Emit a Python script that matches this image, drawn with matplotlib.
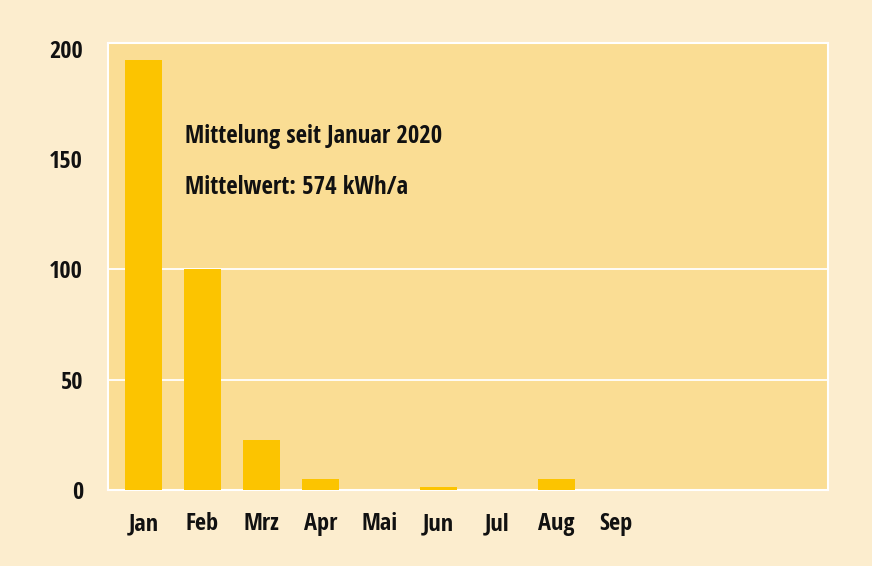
import numpy as np
import matplotlib.pyplot as plt

months = ['Jan', 'Feb', 'Mrz', 'Apr', 'Mai', 'Jun', 'Jul', 'Aug', 'Sep']
values = [195, 100, 22.5, 5, 0, 1.2, 0, 5, 0]
n_slots = 12
y_ticks = [0, 50, 100, 150, 200]
grid_lines = [50, 100]

bg_outer = '#FCEDCE'
bg_plot = '#FADD94'
bar_color = '#FCC400'

plt.rcParams['font.family'] = ['DejaVu Sans Condensed', 'Noto Sans Condensed',
                               'Open Sans Condensed', 'Noto Sans', 'DejaVu Sans']
plt.rcParams['font.stretch'] = 'condensed'
plt.rcParams['font.weight'] = 'bold'

fig = plt.figure(figsize=(8.72, 5.66), dpi=100, facecolor=bg_outer)
ax = fig.add_axes([108 / 872, 1 - 490 / 566, 720 / 872, 447 / 566])
ax.set_facecolor(bg_plot)

x = np.arange(len(months))
ax.bar(x, values, width=0.62, color=bar_color, zorder=3)
for g in grid_lines:
    ax.axhline(g, color='white', linewidth=1.3, zorder=1)

ax.set_xlim(-0.6, n_slots - 0.4)
ax.set_ylim(0, 202.5)
ax.set_yticks(y_ticks)
ax.set_yticklabels([str(v) for v in y_ticks])
ax.set_xticks(x)
ax.set_xticklabels(months)

ax.tick_params(axis='both', length=0, labelsize=17.5, colors='#111111')
ax.tick_params(axis='y', pad=18)
ax.tick_params(axis='x', pad=16)
for s in ax.spines.values():
    s.set_color('white')
    s.set_linewidth(1.5)

ax.text(0.107, 0.777, 'Mittelung seit Januar 2020', transform=ax.transAxes,
        fontsize=17.8, fontweight='bold', color='#111111', va='baseline')
ax.text(0.107, 0.663, 'Mittelwert: 574 kWh/a', transform=ax.transAxes,
        fontsize=17.8, fontweight='bold', color='#111111', va='baseline')

fig.savefig('out.png', dpi=100, facecolor=bg_outer)
